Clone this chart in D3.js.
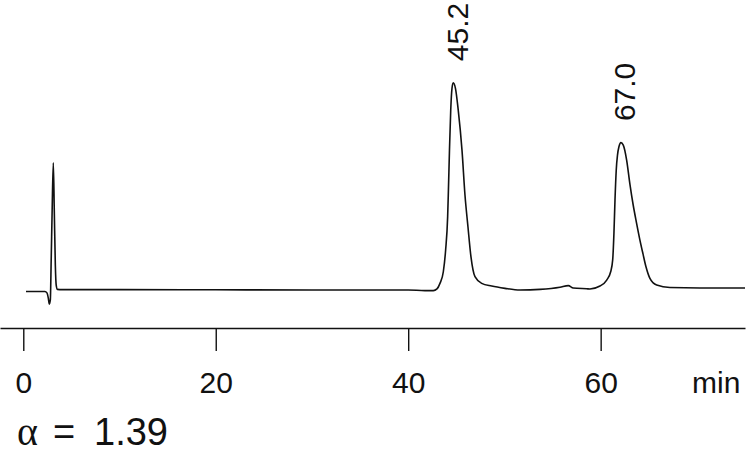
<!DOCTYPE html>
<html>
<head>
<meta charset="utf-8">
<script src="https://cdn.jsdelivr.net/npm/d3@7"></script>
<style>
  html, body { margin: 0; padding: 0; background: #fff; }
  svg { display: block; }
  text { font-family: "Liberation Sans", Arial, Helvetica, sans-serif; fill: #111; }
</style>
</head>
<body>
<svg id="chart" width="750" height="454"></svg>
<script>
// Retention time (min) and detector signal (arbitrary units, peak 1 = 100)
const times = [
  0.28, 2.25, 2.46, 2.60, 2.70, 2.81, 2.90, 3.00, 3.12, 3.22, 3.33, 3.42, 3.55, 4.02,
  10, 20, 30, 40, 41.74, 42.61, 42.99, 43.30, 43.65, 43.89, 44.10, 44.18, 44.29, 44.42,
  44.55, 44.68, 44.91, 45.20, 45.59, 45.90, 46.21, 46.52, 46.94, 47.64, 48.68, 50.06,
  51.62, 53.70, 55.77, 56.64, 57.15, 58.55, 58.89, 59.93, 60.63, 61.04, 61.25, 61.38,
  61.49, 61.62, 61.75, 61.90, 62.11, 62.35, 62.70, 63.04, 63.38, 63.73, 64.08, 64.40,
  64.71, 65.12, 65.82, 67.20, 70.32, 75.0
];
const signal = [
  -0.7, -0.7, -1.4, -3.9, -6.8, -4.8, 14.5, 38.6, 61.4, 38.6, 12.1, 2.4, 0.3, 0.2,
  0.2, 0.1, 0.0, 0.0, -0.3, -0.3, 0.5, 3.2, 8.8, 19.3, 35.4, 48.2, 67.5, 86.8,
  97.3, 100, 97.3, 86.8, 67.5, 45.8, 30.5, 16.1, 6.4, 3.2, 1.9, 0.8,
  0.0, 0.3, 1.3, 2.1, 1.0, 0.6, 0.5, 1.9, 4.8, 8.8, 14.5, 27.4,
  43.4, 57.9, 65.1, 69.1, 71.1, 69.9, 62.7, 51.1, 41.0, 32.3, 24.1, 17.4,
  11.2, 5.6, 2.4, 1.2, 1.0, 1.0
];
const peakLabels = ["45.2", "67.0"];
const peakTimes = [44.68, 62.11];
const peakSignals = [100, 71.1];
const tickValues = [0, 20, 40, 60];
const axisUnit = "min";
const alphaText = "1.39";

const svg = d3.select("#chart");
const x = d3.scaleLinear().domain([-2.42, 75]).range([0, 745]);
const y = d3.scaleLinear().domain([0, 100]).range([290, 82.7]);

const data = times.map((t, i) => ({ t, s: signal[i] }));

const line = d3.line()
  .x(d => x(d.t))
  .y(d => y(d.s))
  .curve(d3.curveMonotoneX);

svg.append("path")
  .datum(data)
  .attr("d", line)
  .attr("fill", "none")
  .attr("stroke", "#111")
  .attr("stroke-width", 1.6)
  .attr("stroke-linejoin", "round");

// peak labels (rotated)
peakLabels.forEach((lab, i) => {
  const px = x(peakTimes[i]) + 14.5;
  const py = y(peakSignals[i]) - 21.5;
  svg.append("text")
    .attr("transform", `translate(${px},${py}) rotate(-90)`)
    .attr("font-size", 30)
    .attr("text-anchor", "start")
    .text(lab);
});

// axis
const axis = d3.axisBottom(x)
  .tickValues(tickValues)
  .tickSize(23)
  .tickSizeOuter(0)
  .tickFormat(d3.format("d"));

const gx = svg.append("g")
  .attr("transform", "translate(0,328)")
  .call(axis);

gx.select(".domain").attr("stroke", "#111").attr("stroke-width", 1.5);
gx.selectAll(".tick line").attr("stroke", "#111").attr("stroke-width", 1.4);
gx.selectAll(".tick text")
  .attr("y", 65)
  .attr("dy", 0)
  .attr("font-size", 30)
  .attr("font-family", "Liberation Sans, Arial, sans-serif")
  .attr("fill", "#111");

svg.append("text")
  .attr("x", 692)
  .attr("y", 393)
  .attr("font-size", 30)
  .text(axisUnit);

// alpha annotation
const at = svg.append("text")
  .attr("y", 445)
  .attr("font-size", 38);
at.append("tspan").attr("x", 17).style("font-family", "'Liberation Serif', 'DejaVu Serif', serif").attr("font-size", 40).text("α");
at.append("tspan").attr("x", 53).text("=");
at.append("tspan").attr("x", 94).text(alphaText);
</script>
</body>
</html>
